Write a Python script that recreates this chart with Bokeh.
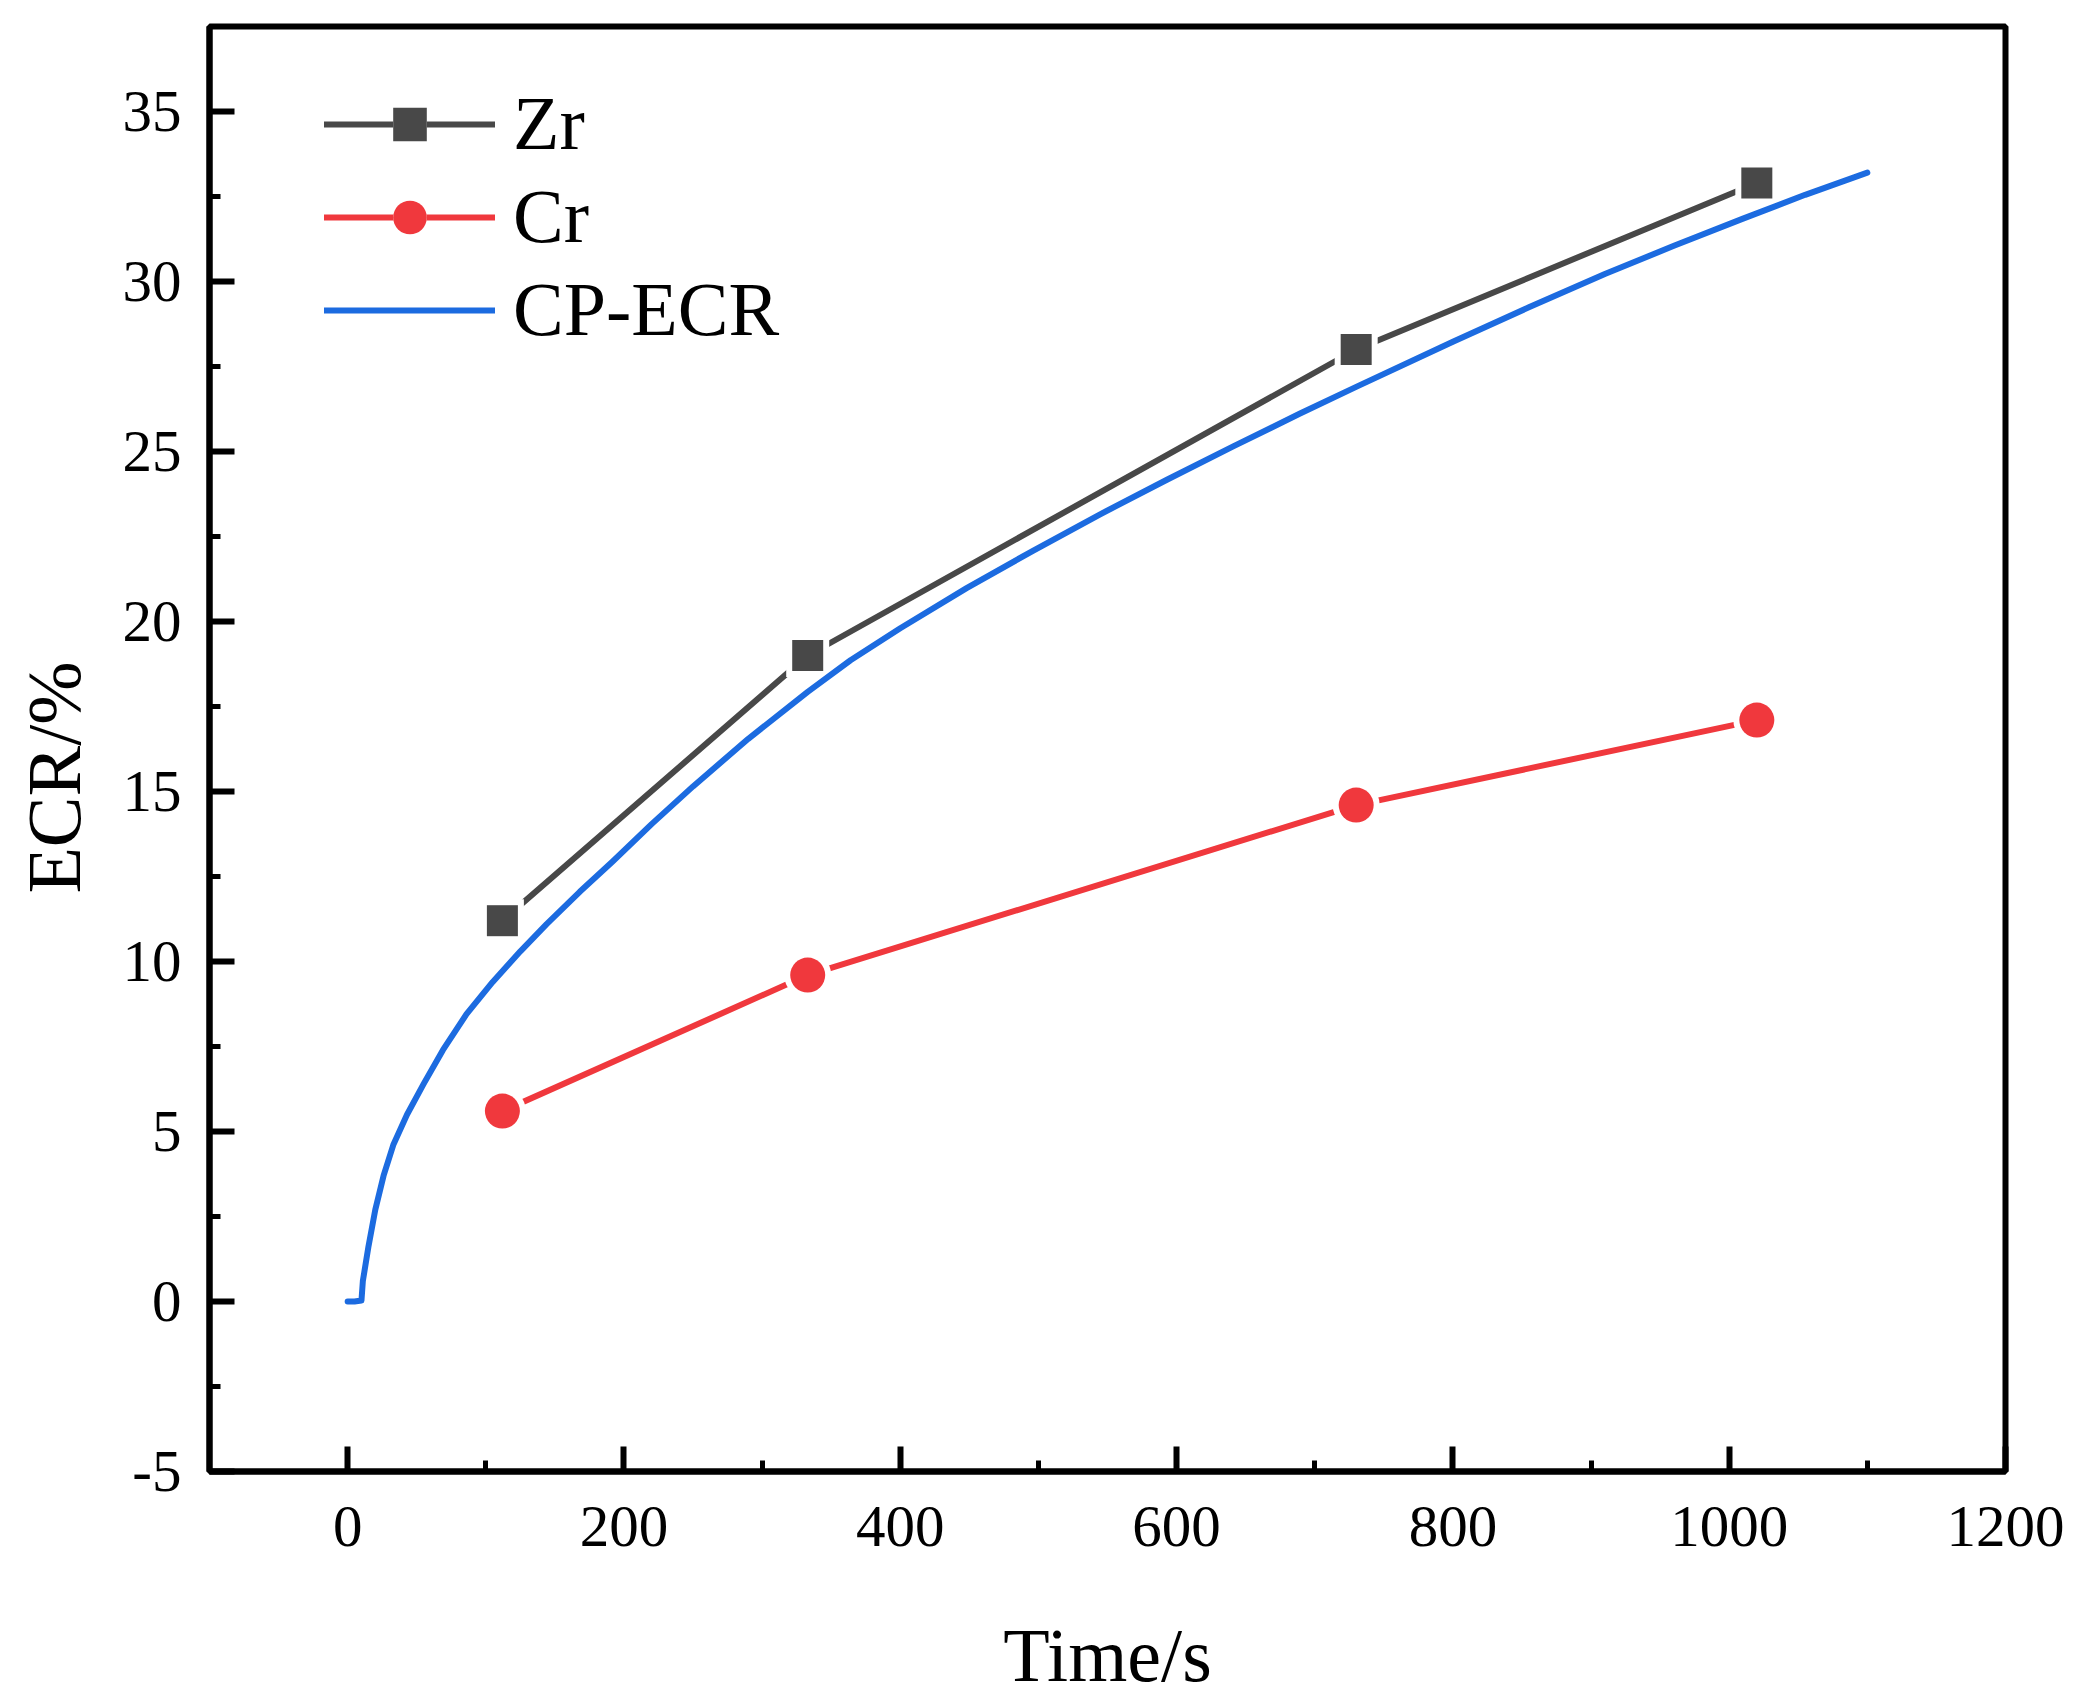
from bokeh.plotting import figure
from bokeh.models import (Range1d, SingleIntervalTicker, Legend, LegendItem,
                          CustomJSTickFormatter)
from bokeh.embed import file_html
from bokeh.resources import INLINE

# ---- data ----
time_points = [112, 333, 730, 1020]
zr_ecr = [11.2, 19.0, 28.0, 32.9]
cr_ecr = [5.6, 9.6, 14.6, 17.1]

cp_time = [0, 5, 10, 11, 13, 15, 20, 26, 33, 43, 55, 69, 86, 105, 125, 144,
           168, 192, 220, 250, 290, 333, 364, 400, 448, 496, 545, 593, 641,
           689, 730, 800, 855, 910, 960, 1010, 1055, 1100]
cp_ecr = [0.0, 0.0, 0.03, 0.6, 1.1, 1.6, 2.7, 3.7, 4.6, 5.5, 6.4, 7.4, 8.45,
          9.4, 10.3, 11.1, 12.05, 12.95, 14.04, 15.15, 16.55, 17.93, 18.86,
          19.8, 20.98, 22.08, 23.16, 24.17, 25.15, 26.11, 26.9, 28.23, 29.24,
          30.22, 31.05, 31.85, 32.55, 33.2]

series_labels = ["Zr", "Cr", "CP-ECR"]
x_title = "Time/s"
y_title = "ECR/%"

ZR_COLOR = "#484848"
CR_COLOR = "#F0383D"
CP_COLOR = "#1C6BE0"
FONT = "Liberation Serif"

FW, FH = 1796, 1445

p = figure(frame_width=FW, frame_height=FH,
           x_range=Range1d(-100, 1200), y_range=Range1d(-5, 37.5),
           output_backend="svg", toolbar_location=None,
           min_border_left=209, min_border_top=26,
           min_border_right=70, min_border_bottom=200)
p.background_fill_color = "white"
p.border_fill_color = "white"
p.xgrid.visible = False
p.ygrid.visible = False
p.outline_line_color = "black"
p.outline_line_width = 6

p.xaxis.ticker = SingleIntervalTicker(interval=200, num_minor_ticks=2)
p.yaxis.ticker = SingleIntervalTicker(interval=5, num_minor_ticks=2)
p.xaxis.formatter = CustomJSTickFormatter(code="return tick.toString();")
p.yaxis.formatter = CustomJSTickFormatter(code="return tick.toString();")
p.xaxis.axis_label = x_title
# trailing no-break spaces nudge the rotated title slightly downward
p.yaxis.axis_label = y_title + "\u00a0\u00a0\u00a0"

for ax in [p.xaxis[0], p.yaxis[0]]:
    ax.axis_line_width = 6
    ax.axis_line_color = "black"
    ax.major_tick_in = 25
    ax.major_tick_out = 0
    ax.minor_tick_in = 11
    ax.minor_tick_out = 0
    ax.major_tick_line_width = 6
    ax.minor_tick_line_width = 5
    ax.major_tick_line_color = "black"
    ax.minor_tick_line_color = "black"
    ax.major_label_text_font = FONT
    ax.major_label_text_font_size = "59px"
    ax.major_label_text_color = "black"
    ax.axis_label_text_font = FONT
    ax.axis_label_text_font_size = "76px"
    ax.axis_label_text_font_style = "normal"
    ax.axis_label_text_color = "black"

p.xaxis.major_label_standoff = 35
p.yaxis.major_label_standoff = 28
p.xaxis.axis_label_standoff = 64
p.yaxis.axis_label_standoff = 24

# lines
zr_line = p.line(time_points, zr_ecr, line_color=ZR_COLOR, line_width=6, line_cap="round")
cr_line = p.line(time_points, cr_ecr, line_color=CR_COLOR, line_width=6, line_cap="round")

# white halos create the gap between line and marker
zr_halo = p.scatter(time_points, zr_ecr, marker="square", size=43,
                    fill_color="white", line_color=None)
cr_halo = p.scatter(time_points, cr_ecr, marker="circle", size=47,
                    fill_color="white", line_color=None)
zr_pts = p.scatter(time_points, zr_ecr, marker="square", size=31,
                   fill_color=ZR_COLOR, line_color=None)
cr_pts = p.scatter(time_points, cr_ecr, marker="circle", size=35,
                   fill_color=CR_COLOR, line_color=None)

cp_line = p.line(cp_time, cp_ecr, line_color=CP_COLOR, line_width=6,
                 line_cap="round", line_join="round")

legend = Legend(items=[
    LegendItem(label=series_labels[0], renderers=[zr_line, zr_halo, zr_pts]),
    LegendItem(label=series_labels[1], renderers=[cr_line, cr_halo, cr_pts]),
    LegendItem(label=series_labels[2], renderers=[cp_line]),
], location=(58, 1061))
legend.margin = 0
legend.padding = 57
legend.border_line_alpha = 0
legend.background_fill_alpha = 0
legend.label_text_font = FONT
legend.label_text_font_size = "76px"
legend.label_text_color = "black"
legend.glyph_width = 171
legend.glyph_height = 84
legend.label_height = 84
legend.label_standoff = 18
legend.spacing = 6
p.add_layout(legend)

open("out.html", "w").write(file_html(p, INLINE))
